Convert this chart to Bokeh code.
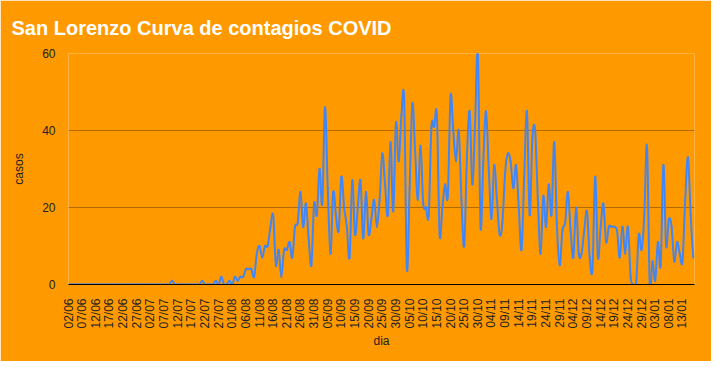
import math
from bokeh.plotting import figure
from bokeh.models import Range1d, FixedTicker, ColumnDataSource
from bokeh.embed import file_html
from bokeh.resources import INLINE

# daily cases, 02/06 .. 17/01
casos = (
    [0] * 38 + [1] + [0] * 10 + [1] + [0] * 4 +
    [1, 0, 2, 0, 0, 1, 0, 2, 1, 2, 2, 4, 4, 4, 2, 8,
     10, 7, 10, 10, 15, 18, 5, 9, 2, 9, 9, 11, 7, 15, 16, 24,
     15, 21, 12, 5, 21, 18, 30, 21, 46, 25, 8, 24, 18, 14, 28, 20,
     15, 7, 27, 13, 20, 27, 12, 24, 13, 17, 22, 15, 22, 34, 26, 18,
     37, 19, 42, 32, 44, 48, 4, 25, 47, 35, 22, 36, 21, 20, 18, 41,
     41, 44, 13, 20, 26, 23, 49, 40, 32, 40, 22, 10, 33, 45, 26, 42,
     60, 15, 32, 45, 30, 17, 31, 22, 13, 16, 29, 34, 32, 25, 31, 20,
     9, 28, 45, 18, 38, 40, 22, 8, 23, 15, 26, 18, 37, 15, 5, 14,
     16, 24, 14, 7, 20, 8, 8, 14, 19, 7, 4, 28, 7, 15, 21, 11,
     15, 15, 15, 14, 7, 15, 8, 15, 2, 0, 0, 13, 9, 18, 36, 0,
     6, 1, 11, 5, 31, 10, 17, 15, 6, 11, 8, 6, 22, 33, 18, 7]
)

etiquetas = [
    "02/06", "07/06", "12/06", "17/06", "22/06", "27/06",
    "02/07", "07/07", "12/07", "17/07", "22/07", "27/07",
    "01/08", "06/08", "11/08", "16/08", "21/08", "26/08", "31/08",
    "05/09", "10/09", "15/09", "20/09", "25/09", "30/09",
    "05/10", "10/10", "15/10", "20/10", "25/10", "30/10",
    "04/11", "09/11", "14/11", "19/11", "24/11", "29/11",
    "04/12", "09/12", "14/12", "19/12", "24/12", "29/12",
    "03/01", "08/01", "13/01",
]

y_ticks = [0, 20, 40, 60]

n = len(casos)
dias = list(range(n))
tick_pos = [5 * k for k in range(len(etiquetas))]

# smooth curve (Catmull-Rom as cubic Bezier segments) built from the data
x0, y0, x1, y1, cx0, cy0, cx1, cy1 = [], [], [], [], [], [], [], []
for i in range(n - 1):
    p0 = casos[i - 1] if i > 0 else casos[i]
    p1 = casos[i]
    p2 = casos[i + 1]
    p3 = casos[i + 2] if i + 2 < n else casos[i + 1]
    x0.append(dias[i]); y0.append(p1)
    x1.append(dias[i + 1]); y1.append(p2)
    cx0.append(dias[i] + 1 / 3); cy0.append(p1 + (p2 - p0) / 6)
    cx1.append(dias[i + 1] - 1 / 3); cy1.append(p2 - (p3 - p1) / 6)
src = ColumnDataSource(dict(x0=x0, y0=y0, x1=x1, y1=y1,
                            cx0=cx0, cy0=cy0, cx1=cx1, cy1=cy1))

ORANGE = "#ff9900"
FONT = "Liberation Sans"

p = figure(width=711, height=361, output_backend="svg", toolbar_location=None,
           x_range=Range1d(0, n - 0.6), y_range=Range1d(0, 60),
           min_border_left=68, min_border_right=17,
           min_border_top=53, min_border_bottom=77)
p.background_fill_color = ORANGE
p.border_fill_color = ORANGE
p.outline_line_color = None

p.title.text = "San Lorenzo Curva de contagios COVID"
p.title.text_color = "white"
p.title.text_font = FONT
p.title.text_font_size = "20px"
p.title.text_font_style = "bold"
p.title.align = "left"
p.title.offset = -57
p.title.standoff = 29

p.bezier(x0="x0", y0="y0", x1="x1", y1="y1", cx0="cx0", cy0="cy0",
         cx1="cx1", cy1="cy1", source=src, line_color="#4285f4",
         line_width=2, line_cap="round")

p.xgrid.visible = False
p.ygrid.ticker = FixedTicker(ticks=y_ticks)
p.ygrid.grid_line_color = "#b36b00"
p.ygrid.grid_line_width = 1

p.yaxis.ticker = FixedTicker(ticks=y_ticks)
p.yaxis.axis_line_color = None
p.yaxis.major_tick_line_color = None
p.yaxis.minor_tick_line_color = None
p.yaxis.major_label_standoff = 7
p.yaxis.major_label_text_font = FONT
p.yaxis.major_label_text_font_size = "12px"
p.yaxis.major_label_text_color = "#222222"
p.yaxis.axis_label = "casos"
p.yaxis.axis_label_text_font = FONT
p.yaxis.axis_label_text_font_size = "12px"
p.yaxis.axis_label_text_font_style = "normal"
p.yaxis.axis_label_text_color = "#222222"
p.yaxis.axis_label_standoff = 13

p.xaxis.ticker = FixedTicker(ticks=tick_pos)
p.xaxis.major_label_overrides = {t: lab for t, lab in zip(tick_pos, etiquetas)}
p.xaxis.major_label_orientation = math.pi / 2
p.xaxis.axis_line_color = "#000000"
p.xaxis.axis_line_width = 1
p.xaxis.major_tick_line_color = None
p.xaxis.minor_tick_line_color = None
p.xaxis.major_label_standoff = 8
p.xaxis.major_label_text_font = FONT
p.xaxis.major_label_text_font_size = "12px"
p.xaxis.major_label_text_color = "#222222"
p.xaxis.axis_label = "dia"
p.xaxis.axis_label_text_font = FONT
p.xaxis.axis_label_text_font_size = "12px"
p.xaxis.axis_label_text_font_style = "normal"
p.xaxis.axis_label_text_color = "#222222"
p.xaxis.axis_label_standoff = 2

open("out.html", "w").write(file_html(p, INLINE))
